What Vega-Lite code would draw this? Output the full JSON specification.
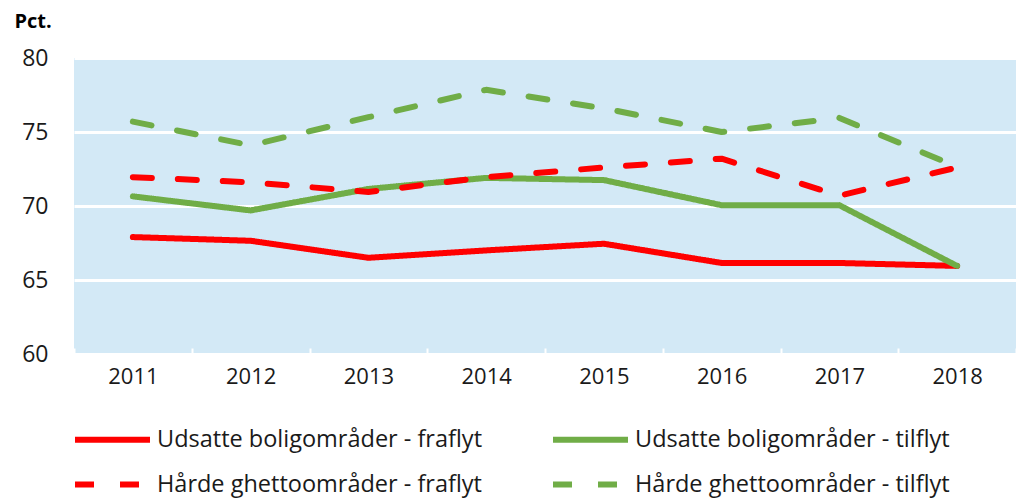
{
  "$schema": "https://vega.github.io/schema/vega-lite/v6.json",
  "autosize": "none",
  "width": 942,
  "height": 296,
  "padding": {"left": 74, "top": 58, "right": 4, "bottom": 144},
  "background": "white",
  "config": {
    "view": {"fill": "#D3E9F6", "stroke": null},
    "font": "Open Sans"
  },
  "data": {
    "values": [
      {"year": "2011", "series": "Udsatte boligområder - fraflyt", "value": 67.9},
      {"year": "2012", "series": "Udsatte boligområder - fraflyt", "value": 67.65},
      {"year": "2013", "series": "Udsatte boligområder - fraflyt", "value": 66.5},
      {"year": "2014", "series": "Udsatte boligområder - fraflyt", "value": 67.0},
      {"year": "2015", "series": "Udsatte boligområder - fraflyt", "value": 67.45},
      {"year": "2016", "series": "Udsatte boligområder - fraflyt", "value": 66.15},
      {"year": "2017", "series": "Udsatte boligområder - fraflyt", "value": 66.15},
      {"year": "2018", "series": "Udsatte boligområder - fraflyt", "value": 65.95},
      {"year": "2011", "series": "Udsatte boligområder - tilflyt", "value": 70.65},
      {"year": "2012", "series": "Udsatte boligområder - tilflyt", "value": 69.7},
      {"year": "2013", "series": "Udsatte boligområder - tilflyt", "value": 71.15},
      {"year": "2014", "series": "Udsatte boligområder - tilflyt", "value": 71.9},
      {"year": "2015", "series": "Udsatte boligområder - tilflyt", "value": 71.75},
      {"year": "2016", "series": "Udsatte boligområder - tilflyt", "value": 70.05},
      {"year": "2017", "series": "Udsatte boligområder - tilflyt", "value": 70.05},
      {"year": "2018", "series": "Udsatte boligområder - tilflyt", "value": 65.95},
      {"year": "2011", "series": "Hårde ghettoområder - fraflyt", "value": 71.95},
      {"year": "2012", "series": "Hårde ghettoområder - fraflyt", "value": 71.6},
      {"year": "2013", "series": "Hårde ghettoområder - fraflyt", "value": 70.95},
      {"year": "2014", "series": "Hårde ghettoområder - fraflyt", "value": 71.95},
      {"year": "2015", "series": "Hårde ghettoområder - fraflyt", "value": 72.6},
      {"year": "2016", "series": "Hårde ghettoområder - fraflyt", "value": 73.2},
      {"year": "2017", "series": "Hårde ghettoområder - fraflyt", "value": 70.7},
      {"year": "2018", "series": "Hårde ghettoområder - fraflyt", "value": 72.6},
      {"year": "2011", "series": "Hårde ghettoområder - tilflyt", "value": 75.7},
      {"year": "2012", "series": "Hårde ghettoområder - tilflyt", "value": 74.1},
      {"year": "2013", "series": "Hårde ghettoområder - tilflyt", "value": 76.0},
      {"year": "2014", "series": "Hårde ghettoområder - tilflyt", "value": 77.85},
      {"year": "2015", "series": "Hårde ghettoområder - tilflyt", "value": 76.6},
      {"year": "2016", "series": "Hårde ghettoområder - tilflyt", "value": 75.0},
      {"year": "2017", "series": "Hårde ghettoområder - tilflyt", "value": 75.95},
      {"year": "2018", "series": "Hårde ghettoområder - tilflyt", "value": 72.65}
    ]
  },
  "mark": {"type": "line", "strokeWidth": 6, "strokeCap": "round", "strokeJoin": "round"},
  "encoding": {
    "x": {
      "field": "year",
      "type": "ordinal",
      "bandPosition": 0.5,
      "scale": {"type": "band", "paddingInner": 0, "paddingOuter": 0},
      "axis": {
        "title": null,
        "labelAngle": 0,
        "labelFontSize": 22,
        "labelColor": "#1a1a1a",
        "labelPadding": 18,
        "domain": false,
        "grid": false,
        "tickBand": "extent",
        "tickColor": "white",
        "tickWidth": 2,
        "tickSize": -6
      }
    },
    "y": {
      "field": "value",
      "type": "quantitative",
      "scale": {"domain": [60, 80], "nice": false, "zero": false},
      "axis": {
        "values": [60, 65, 70, 75, 80],
        "title": "Pct.",
        "titleAngle": 0,
        "titleAlign": "left",
        "titleBaseline": "top",
        "titleX": -60,
        "titleY": -47,
        "titleFontSize": 20,
        "titleFontWeight": "bold",
        "titleColor": "#000000",
        "labelFontSize": 23,
        "labelColor": "#1a1a1a",
        "labelPadding": 26,
        "domain": false,
        "ticks": false,
        "grid": true,
        "gridColor": "white",
        "gridWidth": 3
      }
    },
    "color": {
      "field": "series",
      "type": "nominal",
      "sort": null,
      "scale": {
        "domain": ["Udsatte boligområder - fraflyt", "Hårde ghettoområder - fraflyt", "Udsatte boligområder - tilflyt", "Hårde ghettoområder - tilflyt"],
        "range": ["#FF0000", "#FF0000", "#70AD47", "#70AD47"]
      },
      "legend": {
        "title": null,
        "orient": "none",
        "legendX": 23,
        "legendY": 366,
        "columns": 2,
        "columnPadding": 58,
        "rowPadding": 17,
        "symbolType": "M-3,0H3",
        "symbolSize": 625,
        "symbolStrokeWidth": 6,
        "labelFontSize": 23.5,
        "labelColor": "#1a1a1a",
        "labelOffset": 29,
        "labelLimit": 500
      }
    },
    "strokeDash": {
      "field": "series",
      "type": "nominal",
      "scale": {
        "domain": ["Udsatte boligområder - fraflyt", "Hårde ghettoområder - fraflyt", "Udsatte boligområder - tilflyt", "Hårde ghettoområder - tilflyt"],
        "range": [[1, 0], [19, 26], [1, 0], [19, 26]]
      },
      "legend": null
    }
  }
}
